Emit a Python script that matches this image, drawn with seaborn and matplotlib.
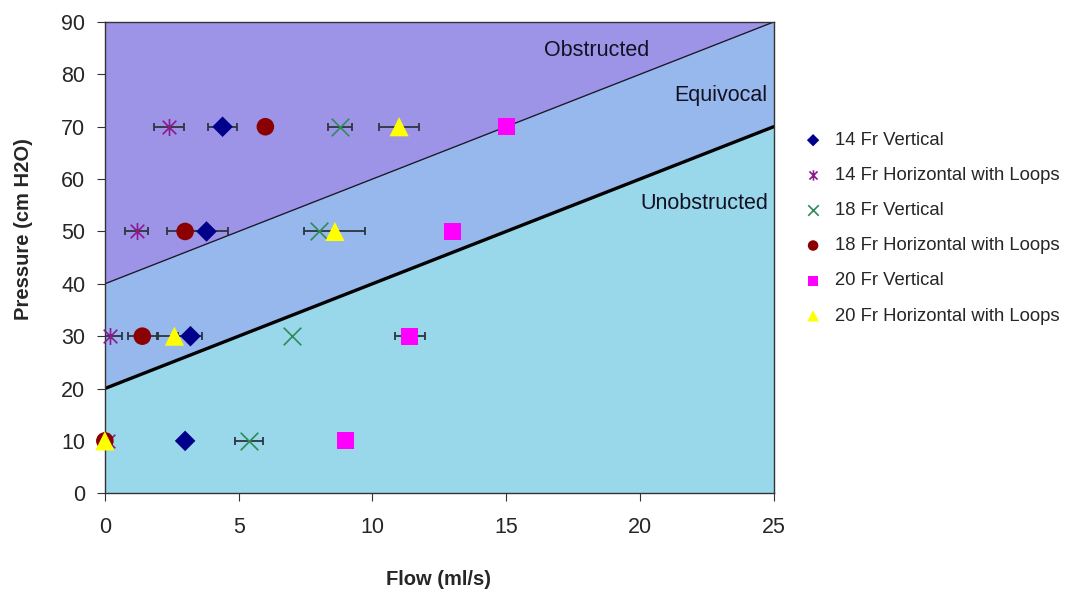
import numpy as np
import pandas as pd
import seaborn as sns
import matplotlib.pyplot as plt
from matplotlib.path import Path

series = ['14 Fr Vertical', '14 Fr Horizontal with Loops', '18 Fr Vertical',
          '18 Fr Horizontal with Loops', '20 Fr Vertical', '20 Fr Horizontal with Loops']
pressure = [10, 30, 50, 70]
flow = {
    '14 Fr Vertical':              [3.0, 3.2, 3.8, 4.4],
    '14 Fr Horizontal with Loops': [0.1, 0.2, 1.2, 2.4],
    '18 Fr Vertical':              [5.4, 7.0, 8.0, 8.8],
    '18 Fr Horizontal with Loops': [0.0, 1.4, 3.0, 6.0],
    '20 Fr Vertical':              [9.0, 11.4, 13.0, 15.0],
    '20 Fr Horizontal with Loops': [0.0, 2.6, 8.6, 11.0],
}
flow_err = {
    '14 Fr Vertical':              [0.0, 0.45, 0.8, 0.55],
    '14 Fr Horizontal with Loops': [0.0, 0.45, 0.43, 0.56],
    '18 Fr Vertical':              [0.52, 0.0, 0.0, 0.45],
    '18 Fr Horizontal with Loops': [0.0, 0.55, 0.67, 0.0],
    '20 Fr Vertical':              [0.0, 0.55, 0.0, 0.0],
    '20 Fr Horizontal with Loops': [0.0, 0.6, 1.14, 0.75],
}
colors = ['#00008b', '#8b1a8b', '#2e8b57', '#8b0000', '#ff00ff', '#ffff00']

# boundary lines (pressure = intercept + 2 * flow)
flow_range = [0, 25]
obstructed_line = [40, 90]
unobstructed_line = [20, 70]

asterisk = Path([(0, -1), (0, 1), (-0.8, -0.8), (0.8, 0.8), (-0.8, 0.8), (0.8, -0.8)],
                [Path.MOVETO, Path.LINETO, Path.MOVETO, Path.LINETO, Path.MOVETO, Path.LINETO])
markers = dict(zip(series, ['D', asterisk, 'x', 'o', 's', '^']))
sizes = dict(zip(series, [110, 150, 160, 160, 150, 190]))

rows = []
for name in series:
    for p, f, e in zip(pressure, flow[name], flow_err[name]):
        rows.append({'Series': name, 'Flow': f, 'Pressure': p, 'Err': e})
df = pd.DataFrame(rows)

sns.set_style('ticks')
plt.rcParams['font.family'] = ['Liberation Sans', 'DejaVu Sans']

fig = plt.figure(figsize=(10.7, 5.95), dpi=100)
ax = fig.add_axes([0.098, 0.171, 0.625, 0.792])

ax.fill_between(flow_range, obstructed_line, [90, 90], color='#9d94e8', lw=0, zorder=0)
ax.fill_between(flow_range, unobstructed_line, obstructed_line, color='#97b8ec', lw=0, zorder=0)
ax.fill_between(flow_range, [0, 0], unobstructed_line, color='#99d8ea', lw=0, zorder=0)
ax.plot(flow_range, obstructed_line, color='#1a1a2e', lw=1.0, zorder=1)
ax.plot(flow_range, unobstructed_line, color='black', lw=2.4, zorder=1)

for name in series:
    d = df[(df.Series == name) & (df.Err > 0)]
    ax.errorbar(d.Flow, d.Pressure, xerr=d.Err, fmt='none', ecolor='#2b3540',
                elinewidth=1.3, capsize=3, capthick=1.3, zorder=2)

for name, c in zip(series, colors):
    d = df[df.Series == name]
    lw = 1.2 if name in ('18 Fr Vertical', '14 Fr Horizontal with Loops') else 0
    sns.scatterplot(data=d, x='Flow', y='Pressure', marker=markers[name], color=c,
                    s=sizes[name], linewidth=lw, edgecolor=c if lw else 'none',
                    ax=ax, zorder=3, label=name, clip_on=False)

ax.text(18.4, 84.6, 'Obstructed', fontsize=15.5, ha='center', va='center', color='#111122')
ax.text(24.75, 76, 'Equivocal', fontsize=15.5, ha='right', va='center', color='#111122')
ax.text(24.8, 55.4, 'Unobstructed', fontsize=15.5, ha='right', va='center', color='#111122')

ax.set_xlim(0, 25)
ax.set_ylim(0, 90)
ax.set_xticks(range(0, 26, 5))
ax.set_yticks(range(0, 91, 10))
ax.tick_params(labelsize=15.5, length=6, color='#333333')
ax.tick_params(axis='x', pad=11)
ax.tick_params(axis='y', pad=8)
for s in ax.spines.values():
    s.set_color('#333333')
    s.set_linewidth(1.0)
ax.set_xlabel('Flow (ml/s)', fontsize=14.5, fontweight='bold')
ax.set_ylabel('Pressure (cm H2O)', fontsize=14.5, fontweight='bold')
ax.xaxis.set_label_coords(0.499, -0.162)
ax.yaxis.set_label_coords(-0.108, 0.56)

handles, labels = ax.get_legend_handles_labels()
ax.legend(handles, labels, loc='upper left', bbox_to_anchor=(0.734, 0.806),
          bbox_transform=fig.transFigure, frameon=False, fontsize=13.3,
          markerscale=0.6, labelspacing=0.98, handlelength=1.2, handletextpad=0.6)

plt.savefig('out.png', dpi=100)
